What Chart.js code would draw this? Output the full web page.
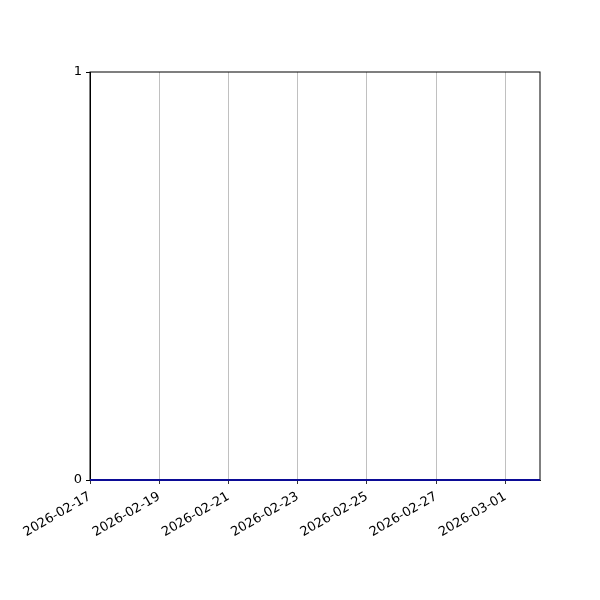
<!DOCTYPE html>
<html>
<head>
<meta charset="utf-8">
<script src="https://cdn.jsdelivr.net/npm/chart.js@4"></script>
<style>
  html, body { margin: 0; padding: 0; background: #fff; }
  #wrap { width: 600px; height: 600px; }
</style>
</head>
<body>
<div id="wrap"><canvas id="myChart" width="600" height="600"></canvas></div>
<script>
const dates = ["2026-02-17","2026-02-18","2026-02-19","2026-02-20","2026-02-21","2026-02-22","2026-02-23",
               "2026-02-24","2026-02-25","2026-02-26","2026-02-27","2026-02-28","2026-03-01","2026-03-02"];
const values = [0,0,0,0,0,0,0,0,0,0,0,0,0,0];
const yTicks = [0, 1];

// black box round the plot, drawn under the line
const frame = {
    id: "frame",
    beforeDatasetsDraw(chart) {
        const { ctx, chartArea: a } = chart;
        ctx.save();
        ctx.strokeStyle = "#000";
        ctx.lineWidth = 1;
        ctx.strokeRect(a.left, a.top, a.right - a.left, a.bottom - a.top);
        ctx.restore();
    }
};

Chart.defaults.font.family = "'DejaVu Sans', sans-serif";
Chart.defaults.font.size = 13;
Chart.defaults.color = "#000";

new Chart(document.getElementById("myChart"), {
    type: "line",
    data: {
        datasets: [{
            data: values.map((v, i) => ({ x: i, y: v })),
            borderColor: "#0b0b96",
            borderWidth: 2,
            pointRadius: 0,
            fill: false,
            clip: 4
        }]
    },
    options: {
        responsive: false,
        animation: false,
        layout: { padding: { top: 72, right: 60, left: 0, bottom: 0 } },
        plugins: { legend: { display: false }, tooltip: { enabled: false } },
        scales: {
            x: {
                type: "linear",
                min: 0,
                max: dates.length - 1,
                afterFit: s => { s.height = 120; },
                afterBuildTicks: s => { s.ticks = dates.map((d, i) => ({ value: i })).filter(t => t.value % 2 === 0); },
                ticks: {
                    callback: v => dates[v],
                    minRotation: 30,
                    maxRotation: 30,
                    padding: 5
                },
                grid: { color: "#b0b0b0", lineWidth: 0.8, tickColor: "#000", tickLength: 4 },
                border: { color: "#000" }
            },
            y: {
                min: 0,
                max: 1,
                afterFit: s => { s.width = 90; },
                afterBuildTicks: s => { s.ticks = yTicks.map(v => ({ value: v })); },
                ticks: { padding: 4 },
                grid: { drawOnChartArea: false, tickColor: "#000", tickLength: 4 },
                border: { color: "#000" }
            }
        }
    },
    plugins: [frame]
});
</script>
</body>
</html>
